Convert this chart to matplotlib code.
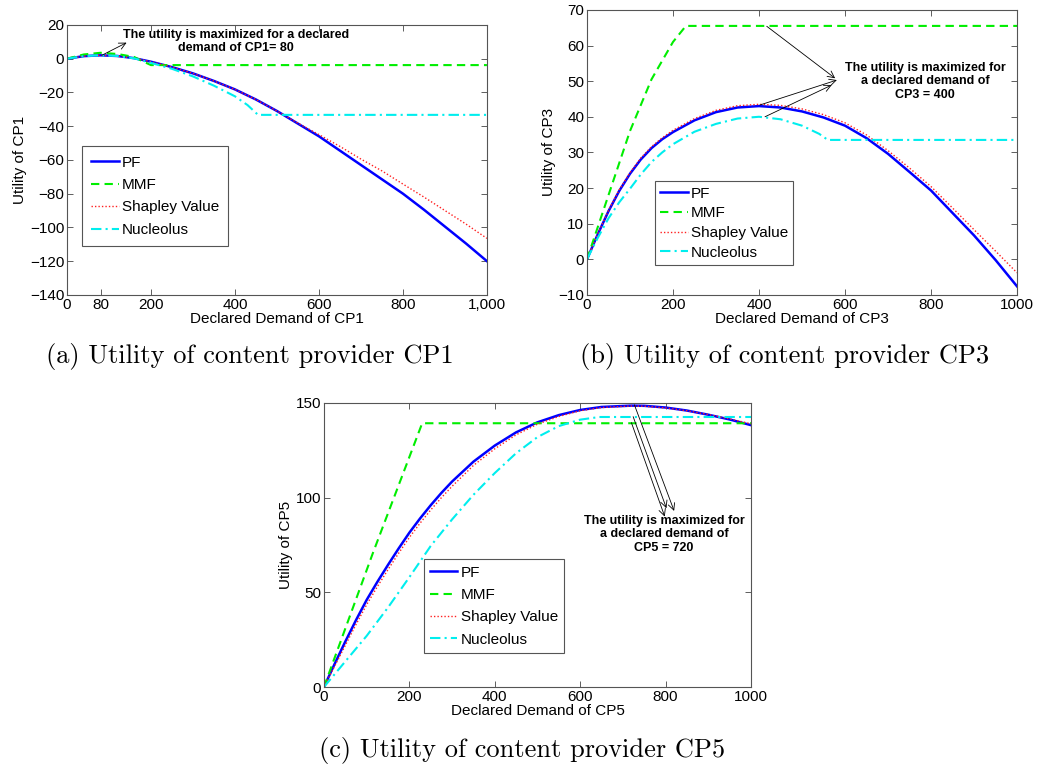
import numpy as np
import matplotlib
matplotlib.use("Agg")
import matplotlib.pyplot as plt

plt.rcParams['font.family'] = ['Liberation Sans', 'DejaVu Sans']
plt.rcParams['font.size'] = 11

# ---- panel (a): CP1 ----
a_pf_x = [0, 40, 80, 120, 160, 200, 250, 300, 350, 400, 450, 500, 550, 600, 650, 700, 750, 800, 850, 900, 950, 1000]
a_pf_y = [0, 1.5, 2.0, 1.6, 0.3, -1.8, -5.0, -8.7, -13.2, -18.2, -24.2, -31.0, -38.5, -46.0, -54.5, -63.0, -71.5, -80.0, -89.5, -99.5, -109.5, -120.0]
a_sv_y = [0, 1.5, 2.0, 1.6, 0.3, -1.8, -5.0, -8.7, -13.2, -18.2, -24.2, -31.0, -38.2, -45.0, -52.0, -59.5, -66.5, -74.3, -82.0, -90.0, -98.0, -106.5]
a_mmf_x = [0, 40, 80, 120, 160, 180, 200, 1000]
a_mmf_y = [0, 2.5, 3.5, 2.8, 1.0, -1.5, -3.8, -3.8]
a_nu_x = [0, 40, 80, 120, 160, 200, 250, 300, 350, 400, 430, 455, 1000]
a_nu_y = [0, 1.5, 2.0, 1.6, 0.2, -2.5, -6.0, -10.5, -16.0, -22.3, -27.5, -33.3, -33.3]

# ---- panel (b): CP3 ----
b_x = [0, 25, 50, 75, 100, 125, 150, 175, 200, 250, 300, 350, 400, 450, 500, 550, 600, 650, 700, 750, 800, 850, 900, 950, 1000]
b_pf_y = [0, 7.0, 13.5, 19.2, 24.0, 28.0, 31.2, 33.7, 35.7, 39.0, 41.3, 42.6, 43.0, 42.6, 41.5, 39.8, 37.5, 34.0, 29.6, 24.5, 19.3, 13.0, 6.7, -0.2, -7.6]
b_sv_y = [0, 7.1, 13.7, 19.5, 24.3, 28.4, 31.6, 34.1, 36.2, 39.5, 41.8, 43.1, 43.5, 43.2, 42.2, 40.6, 38.3, 34.9, 30.5, 25.6, 20.4, 14.4, 8.3, 2.3, -3.8]
b_mmf_x = [0, 50, 100, 150, 200, 230, 1000]
b_mmf_y = [0, 18.0, 36.0, 50.5, 61.0, 65.5, 65.5]
b_nu_x = [0, 25, 50, 75, 100, 125, 150, 175, 200, 250, 300, 350, 400, 450, 500, 540, 560, 1000]
b_nu_y = [0, 6.0, 11.5, 16.0, 19.8, 23.8, 27.3, 30.0, 32.3, 35.8, 38.0, 39.5, 40.0, 39.3, 37.5, 35.2, 33.5, 33.5]

# ---- panel (c): CP5 ----
c_x = [0, 25, 50, 75, 100, 125, 150, 175, 200, 225, 250, 275, 300, 350, 400, 450, 500, 550, 600, 650, 720, 750, 800, 850, 900, 950, 1000]
c_pf_y = [0, 12.2, 24.0, 35.3, 46.0, 55.5, 64.5, 73.2, 81.5, 89.0, 96.0, 102.5, 108.5, 119.0, 127.5, 134.5, 139.8, 143.6, 146.3, 147.9, 148.6, 148.5, 147.6, 146.0, 143.8, 141.3, 138.3]
c_sv_y = [0, 11.0, 22.0, 33.0, 43.5, 53.0, 62.0, 70.7, 79.0, 86.5, 93.5, 100.0, 106.0, 117.0, 125.8, 133.2, 138.8, 142.9, 145.9, 147.6, 148.4, 148.3, 147.4, 145.9, 143.9, 141.6, 139.0]
c_mmf_x = [0, 115, 230, 1000]
c_mmf_y = [0, 71.0, 139.3, 139.3]
c_nu_x = [0, 50, 100, 150, 200, 250, 300, 350, 400, 450, 500, 550, 600, 645, 1000]
c_nu_y = [0, 13.5, 27.0, 42.0, 58.0, 74.5, 88.5, 101.5, 113.0, 123.5, 132.0, 137.8, 141.2, 142.6, 142.6]

labels = ['PF', 'MMF', 'Shapley Value', 'Nucleolus']

fig = plt.figure(figsize=(10.38, 7.72), dpi=100)
ax_a = fig.add_axes([0.0645, 0.618, 0.4046, 0.3497])
ax_b = fig.add_axes([0.5655, 0.618, 0.4143, 0.3692])
ax_c = fig.add_axes([0.3121, 0.1101, 0.4114, 0.3679])


def draw(ax, pf, mmf, sv, nu):
    ax.plot(pf[0], pf[1], color='#0000ff', lw=1.8, label=labels[0])
    ax.plot(mmf[0], mmf[1], color='#00ee00', lw=1.5, ls=(0, (4, 2.5)), label=labels[1])
    ax.plot(sv[0], sv[1], color='#ff2020', lw=1.0, ls=(0, (1, 1.5)), label=labels[2])
    ax.plot(nu[0], nu[1], color='#00eeee', lw=1.5, ls=(0, (5, 2, 1, 2)), label=labels[3])
    ax.tick_params(direction='in', top=True, right=True, length=4, width=0.6,
                   color='#444444', pad=2, labelsize=11)
    for s in ax.spines.values():
        s.set_color('#555555')
        s.set_linewidth(0.8)
    ax.set_xlim(0, 1000)


draw(ax_a, (a_pf_x, a_pf_y), (a_mmf_x, a_mmf_y), (a_pf_x, a_sv_y), (a_nu_x, a_nu_y))
ax_a.set_ylim(-140, 20)
ax_a.set_yticks(np.arange(-140, 21, 20))
ax_a.set_xticks([0, 80, 200, 400, 600, 800, 1000])
ax_a.set_xticklabels(['0', '80', '200', '400', '600', '800', '1,000'])
ax_a.set_xlabel('Declared Demand of CP1', labelpad=0)
ax_a.set_ylabel('Utility of CP1', labelpad=2)

draw(ax_b, (b_x, b_pf_y), (b_mmf_x, b_mmf_y), (b_x, b_sv_y), (b_nu_x, b_nu_y))
ax_b.set_ylim(-10, 70)
ax_b.set_yticks(np.arange(-10, 71, 10))
ax_b.set_xticks(np.arange(0, 1001, 200))
ax_b.set_xlabel('Declared Demand of CP3', labelpad=0)
ax_b.set_ylabel('Utility of CP3', labelpad=2)

draw(ax_c, (c_x, c_pf_y), (c_mmf_x, c_mmf_y), (c_x, c_sv_y), (c_nu_x, c_nu_y))
ax_c.set_ylim(0, 150)
ax_c.set_yticks([0, 50, 100, 150])
ax_c.set_xticks(np.arange(0, 1001, 200))
ax_c.set_xlabel('Declared Demand of CP5', labelpad=0)
ax_c.set_ylabel('Utility of CP5', labelpad=2)

leg_kw = dict(fancybox=False, framealpha=1, edgecolor='#555555', handlelength=1.8,
              handletextpad=0.2, borderaxespad=0, fontsize=11)
la = ax_a.legend(loc='lower left', bbox_to_anchor=(0.036, 0.181), labelspacing=0.55, borderpad=0.6, **leg_kw)
lb = ax_b.legend(loc='lower left', bbox_to_anchor=(0.158, 0.105), labelspacing=0.37, borderpad=0.35, **leg_kw)
lc = ax_c.legend(loc='lower left', bbox_to_anchor=(0.234, 0.12), labelspacing=0.55, borderpad=0.4, **leg_kw)
for lg in (la, lb, lc):
    lg.get_frame().set_linewidth(0.8)

arrow = dict(arrowstyle='->', lw=0.6, color='black', shrinkA=0, shrinkB=0,
             mutation_scale=12)
note_kw = dict(fontsize=9, fontweight='bold', ha='center', va='top')

ax_a.annotate('', xy=(142, 9.5), xytext=(83, 2), arrowprops=arrow)
ax_a.text(402, 17.5, 'The utility is maximized for a declared\ndemand of CP1= 80',
          linespacing=1.1, **note_kw)

for start, tip in [((418, 65.4), (577, 50.8)), ((402, 43.3), (581, 50.3)), ((414, 40.0), (569, 48.9))]:
    ax_b.annotate('', xy=tip, xytext=start, arrowprops=arrow)
ax_b.text(786, 55.5, 'The utility is maximized for\na declared demand of\nCP3 = 400',
          linespacing=1.2, **note_kw)

for start, tip in [((727, 149.0), (820, 93.0)), ((720, 139.6), (798, 90.0)), ((724, 142.8), (802, 94.4))]:
    ax_c.annotate('', xy=tip, xytext=start, arrowprops=arrow)
ax_c.text(796, 91, 'The utility is maximized for\na declared demand of\nCP5 = 720',
          linespacing=1.2, **note_kw)

cap_kw = dict(family='cmr10', fontsize=19, ha='center', va='center')
fig.text(250 / 1038, 1 - 357 / 772, '(a) Utility of content provider CP1', **cap_kw)
fig.text(785 / 1038, 1 - 357 / 772, '(b) Utility of content provider CP3', **cap_kw)
fig.text(522 / 1038, 1 - 750 / 772, '(c) Utility of content provider CP5', **cap_kw)

fig.savefig('out.png', dpi=100)
